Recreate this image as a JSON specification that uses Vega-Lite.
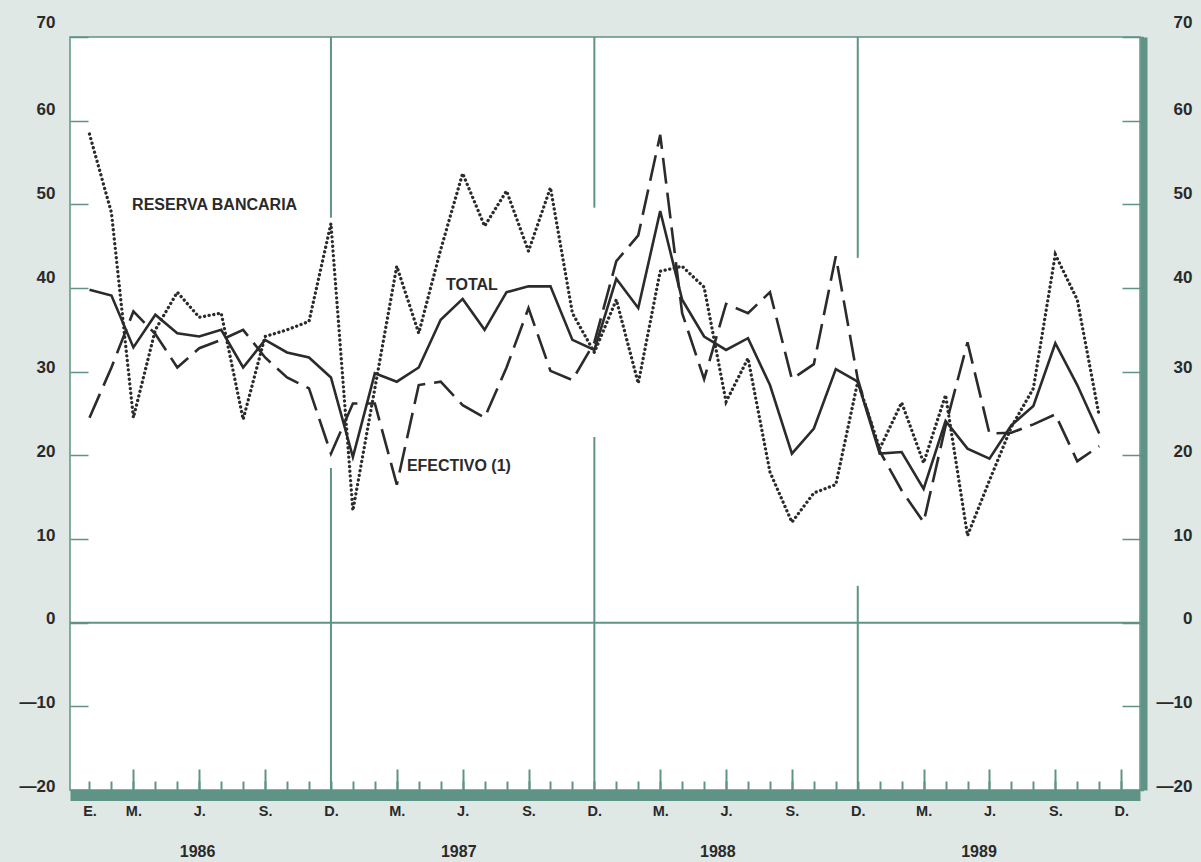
{
  "$schema": "https://vega.github.io/schema/vega-lite/v6.json",
  "width": 1070,
  "height": 753,
  "autosize": "none",
  "padding": {"left": 70, "top": 37, "right": 61, "bottom": 72},
  "background": "#dfe8e4",
  "datasets": {
    "series": [
      {"m": 0, "TOTAL": 39.8, "EFECTIVO": 24.5, "RESERVA": 58.4},
      {"m": 1, "TOTAL": 39.1, "EFECTIVO": 30.5, "RESERVA": 49.0},
      {"m": 2, "TOTAL": 32.9, "EFECTIVO": 37.2, "RESERVA": 24.5},
      {"m": 3, "TOTAL": 36.8, "EFECTIVO": 34.5, "RESERVA": 35.0},
      {"m": 4, "TOTAL": 34.6, "EFECTIVO": 30.5, "RESERVA": 39.5},
      {"m": 5, "TOTAL": 34.2, "EFECTIVO": 32.8, "RESERVA": 36.5},
      {"m": 6, "TOTAL": 35.0, "EFECTIVO": 33.8, "RESERVA": 37.0},
      {"m": 7, "TOTAL": 30.5, "EFECTIVO": 35.0, "RESERVA": 24.3},
      {"m": 8, "TOTAL": 33.8, "EFECTIVO": 31.7, "RESERVA": 34.2},
      {"m": 9, "TOTAL": 32.3, "EFECTIVO": 29.3, "RESERVA": 35.0},
      {"m": 10, "TOTAL": 31.7, "EFECTIVO": 28.0, "RESERVA": 36.0},
      {"m": 11, "TOTAL": 29.3, "EFECTIVO": 20.2, "RESERVA": 47.7},
      {"m": 12, "TOTAL": 19.8, "EFECTIVO": 26.2, "RESERVA": 13.4},
      {"m": 13, "TOTAL": 29.8, "EFECTIVO": 26.2, "RESERVA": 28.0},
      {"m": 14, "TOTAL": 28.8, "EFECTIVO": 16.5, "RESERVA": 42.6},
      {"m": 15, "TOTAL": 30.5, "EFECTIVO": 28.4, "RESERVA": 34.6},
      {"m": 16, "TOTAL": 36.2, "EFECTIVO": 28.8, "RESERVA": 44.6},
      {"m": 17, "TOTAL": 38.7, "EFECTIVO": 26.0, "RESERVA": 53.7},
      {"m": 18, "TOTAL": 35.0, "EFECTIVO": 24.5, "RESERVA": 47.4},
      {"m": 19, "TOTAL": 39.5, "EFECTIVO": 30.5, "RESERVA": 51.6},
      {"m": 20, "TOTAL": 40.2, "EFECTIVO": 37.6, "RESERVA": 44.4},
      {"m": 21, "TOTAL": 40.2, "EFECTIVO": 30.1, "RESERVA": 52.0},
      {"m": 22, "TOTAL": 33.8, "EFECTIVO": 29.0, "RESERVA": 37.0},
      {"m": 23, "TOTAL": 32.6, "EFECTIVO": 33.5, "RESERVA": 32.3},
      {"m": 24, "TOTAL": 41.1, "EFECTIVO": 43.2, "RESERVA": 38.6},
      {"m": 25, "TOTAL": 37.6, "EFECTIVO": 46.3, "RESERVA": 28.6},
      {"m": 26, "TOTAL": 49.2, "EFECTIVO": 58.3, "RESERVA": 42.0},
      {"m": 27, "TOTAL": 38.6, "EFECTIVO": 37.0, "RESERVA": 42.6},
      {"m": 28, "TOTAL": 34.2, "EFECTIVO": 29.1, "RESERVA": 40.1},
      {"m": 29, "TOTAL": 32.6, "EFECTIVO": 38.1, "RESERVA": 26.4},
      {"m": 30, "TOTAL": 34.0, "EFECTIVO": 37.0, "RESERVA": 31.6},
      {"m": 31, "TOTAL": 28.4, "EFECTIVO": 39.5, "RESERVA": 18.0},
      {"m": 32, "TOTAL": 20.2, "EFECTIVO": 29.1, "RESERVA": 12.0},
      {"m": 33, "TOTAL": 23.2, "EFECTIVO": 30.9, "RESERVA": 15.5},
      {"m": 34, "TOTAL": 30.3, "EFECTIVO": 43.8, "RESERVA": 16.5},
      {"m": 35, "TOTAL": 28.8, "EFECTIVO": 29.1, "RESERVA": 28.8},
      {"m": 36, "TOTAL": 20.2, "EFECTIVO": 20.5, "RESERVA": 20.8},
      {"m": 37, "TOTAL": 20.4, "EFECTIVO": 15.8, "RESERVA": 26.3},
      {"m": 38, "TOTAL": 16.0, "EFECTIVO": 12.0, "RESERVA": 19.1},
      {"m": 39, "TOTAL": 24.1, "EFECTIVO": 23.5, "RESERVA": 27.2},
      {"m": 40, "TOTAL": 20.8, "EFECTIVO": 33.5, "RESERVA": 10.4},
      {"m": 41, "TOTAL": 19.6, "EFECTIVO": 22.6, "RESERVA": 17.0},
      {"m": 42, "TOTAL": 23.6, "EFECTIVO": 22.7, "RESERVA": 23.4},
      {"m": 43, "TOTAL": 25.9, "EFECTIVO": 23.7, "RESERVA": 28.0},
      {"m": 44, "TOTAL": 33.4, "EFECTIVO": 24.9, "RESERVA": 44.0},
      {"m": 45, "TOTAL": 28.4, "EFECTIVO": 19.3, "RESERVA": 38.6},
      {"m": 46, "TOTAL": 22.6, "EFECTIVO": 21.1, "RESERVA": 24.7}
    ],
    "divisiones": [
      {"m": 11, "desde": 70, "hasta": 48.4},
      {"m": 11, "desde": 18.5, "hasta": -20},
      {"m": 23, "desde": 70, "hasta": 49.6},
      {"m": 23, "desde": 22.2, "hasta": -20},
      {"m": 35, "desde": 70, "hasta": 43.6},
      {"m": 35, "desde": 4.4, "hasta": -20}
    ],
    "rotulos": [
      {"texto": "RESERVA BANCARIA", "m": 1.94, "v": 49.9},
      {"texto": "TOTAL", "m": 16.24, "v": 40.4},
      {"texto": "EFECTIVO (1)", "m": 14.46, "v": 18.7}
    ]
  },
  "resolve": {"axis": {"x": "independent", "y": "independent"}},
  "layer": [
    {
      "data": {"values": [{"nivel": 0}]},
      "mark": {"type": "rule", "color": "#5f9386", "strokeWidth": 2},
      "encoding": {
        "y": {"field": "nivel", "type": "quantitative", "scale": {"domain": [-20, 70], "nice": false, "zero": false}, "axis": null}
      }
    },
    {
      "data": {"name": "divisiones"},
      "mark": {"type": "rule", "color": "#5f9386", "strokeWidth": 2},
      "encoding": {
        "x": {"field": "m", "type": "quantitative", "scale": {"domain": [-0.888, 47.858], "nice": false, "zero": false},
          "axis": {"orient": "bottom", "values": [2, 5, 8, 14, 17, 20, 26, 29, 32, 38, 41, 44, 47], "offset": 5, "tickSize": -26, "tickWidth": 2, "tickColor": "#5f9386", "domain": false, "labels": false, "grid": false, "title": null}},
        "y": {"field": "desde", "type": "quantitative", "scale": {"domain": [-20, 70], "nice": false, "zero": false},
          "axis": {"orient": "right", "values": [70, 60, 50, 40, 30, 20, 10, 0, -10, -20], "offset": 3.5, "tickSize": -21.5, "tickWidth": 1.5, "tickColor": "#5f9386", "domain": true, "domainColor": "#5f9386", "domainWidth": 7, "grid": false, "title": null,
            "labelExpr": "datum.value < 0 ? '—' + (-datum.value) : datum.label",
            "labelAlign": "right", "labelBaseline": "middle", "labelPadding": 70,
            "labelFont": "Liberation Sans", "labelFontWeight": "bold", "labelFontSize": 17, "labelColor": "#2a2a2a",
            "labelFlush": false, "labelOverlap": false, "labelBound": false,
            "labelOffset": {"condition": [{"test": "datum.value == 70", "value": -15}, {"test": "datum.value >= 40", "value": -11}], "value": -4}}},
        "y2": {"field": "hasta"}
      }
    },
    {
      "data": {"name": "series"},
      "mark": {"type": "line", "color": "#2b2b2b", "strokeWidth": 2.6},
      "encoding": {
        "x": {"field": "m", "type": "quantitative", "scale": {"domain": [-0.888, 47.858], "nice": false, "zero": false},
          "axis": {"orient": "bottom", "values": [0,1,2,3,4,5,6,7,8,9,10,11,12,13,14,15,16,17,18,19,20,21,22,23,24,25,26,27,28,29,30,31,32,33,34,35,36,37,38,39,40,41,42,43,44,45,46,47],
            "offset": 5, "tickSize": -14, "tickWidth": 2, "tickColor": "#5f9386",
            "domain": true, "domainColor": "#5f9386", "domainWidth": 11, "grid": false, "title": null,
            "labelExpr": "datum.value == 0 ? 'E.' : (datum.value % 3 == 2 ? ['M.','J.','S.','D.'][floor((datum.value % 12) / 3)] : '')",
            "labelBaseline": "middle", "labelAlign": "center", "labelPadding": 30,
            "labelFont": "Liberation Sans", "labelFontWeight": "bold", "labelFontSize": 14.5, "labelColor": "#2a2a2a",
            "labelFlush": false, "labelOverlap": false, "labelBound": false}},
        "y": {"field": "TOTAL", "type": "quantitative", "scale": {"domain": [-20, 70], "nice": false, "zero": false},
          "axis": {"orient": "left", "values": [70, 60, 50, 40, 30, 20, 10, 0, -10, -20], "tickSize": -18, "tickWidth": 1.5, "tickColor": "#5f9386", "domain": false, "grid": false, "title": null,
            "labelExpr": "datum.value < 0 ? '—' + (-datum.value) : datum.label",
            "labelAlign": "right", "labelBaseline": "middle", "labelPadding": 33,
            "labelFont": "Liberation Sans", "labelFontWeight": "bold", "labelFontSize": 17, "labelColor": "#2a2a2a",
            "labelFlush": false, "labelOverlap": false, "labelBound": false,
            "labelOffset": {"condition": [{"test": "datum.value == 70", "value": -15}, {"test": "datum.value >= 40", "value": -11}], "value": -4}}}
      }
    },
    {
      "data": {"name": "series"},
      "mark": {"type": "line", "color": "#2b2b2b", "strokeWidth": 2.6, "strokeDash": [26, 9]},
      "encoding": {
        "x": {"field": "m", "type": "quantitative", "scale": {"domain": [-0.888, 47.858], "nice": false, "zero": false}, "axis": null},
        "y": {"field": "EFECTIVO", "type": "quantitative", "scale": {"domain": [-20, 70], "nice": false, "zero": false}, "axis": null}
      }
    },
    {
      "data": {"name": "series"},
      "mark": {"type": "line", "color": "#2b2b2b", "strokeWidth": 3.3, "strokeDash": [0.1, 4.6], "strokeCap": "round"},
      "encoding": {
        "x": {"field": "m", "type": "quantitative", "scale": {"domain": [-0.888, 47.858], "nice": false, "zero": false}, "axis": null},
        "y": {"field": "RESERVA", "type": "quantitative", "scale": {"domain": [-20, 70], "nice": false, "zero": false}, "axis": null}
      }
    },
    {
      "data": {"name": "rotulos"},
      "mark": {"type": "text", "align": "left", "baseline": "middle", "font": "Liberation Sans", "fontWeight": "bold", "fontSize": 16, "color": "#2a2a2a"},
      "encoding": {
        "x": {"field": "m", "type": "quantitative", "scale": {"domain": [-0.888, 47.858], "nice": false, "zero": false},
          "axis": {"orient": "bottom", "values": [4.9, 16.8, 28.6, 40.5], "ticks": false, "domain": false, "grid": false, "title": null,
            "labelExpr": "'' + (1986 + floor(datum.value / 12))",
            "labelBaseline": "middle", "labelAlign": "center", "labelPadding": 61,
            "labelFont": "Liberation Sans", "labelFontWeight": "bold", "labelFontSize": 16, "labelColor": "#2a2a2a",
            "labelFlush": false, "labelOverlap": false, "labelBound": false}},
        "y": {"field": "v", "type": "quantitative", "scale": {"domain": [-20, 70], "nice": false, "zero": false}, "axis": null},
        "text": {"field": "texto"}
      }
    }
  ],
  "config": {
    "view": {"stroke": "#5f9386", "strokeWidth": 1.5, "fill": "white"}
  }
}
